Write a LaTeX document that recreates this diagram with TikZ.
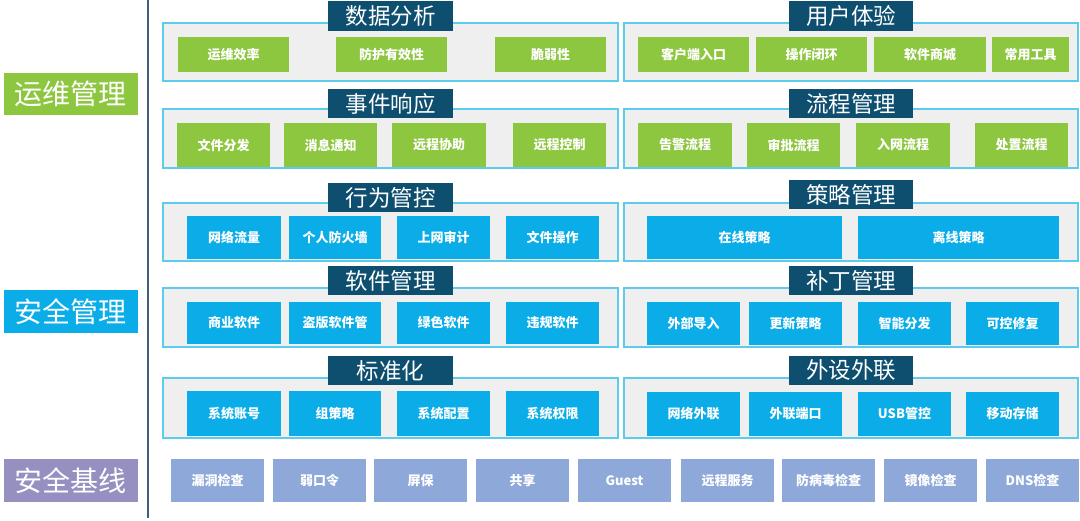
\documentclass[tikz,border=0pt]{standalone}
\usepackage{fontspec}
\setmainfont{Noto Sans CJK SC}
\definecolor{grn}{HTML}{8DC63F}
\definecolor{blu}{HTML}{0AADE8}
\definecolor{prp}{HTML}{8FA8DA}
\definecolor{lblprp}{HTML}{9590C0}
\definecolor{ttlblue}{HTML}{0E4F70}
\definecolor{panelfill}{HTML}{EFEFEF}
\definecolor{panelline}{HTML}{5DCBEB}
\definecolor{divline}{HTML}{465C7C}
\newcommand\mybox[7]{%
  \node[#1, minimum width={(#5-#3)*1pt}, minimum height={(#6-#4)*1pt}] (#2) at ({(#3+#5)/2},{(#4+#6)/2}) {#7};}
\begin{document}
\begin{tikzpicture}[x=1pt,y=-1pt,
  panel/.style={draw=panelline, line width=2.2pt, fill=panelfill, inner sep=0},
  ttl/.style={fill=ttlblue, text=white, inner sep=0, font=\fontsize{22.5}{22.5}\selectfont},
  itm/.style={inner sep=0, text=white, font=\bfseries\fontsize{13}{13}\selectfont},
  gitem/.style={itm, fill=grn},
  bitem/.style={itm, fill=blu},
  pitem/.style={itm, fill=prp},
  lbl/.style={inner sep=0, text=white, font=\fontsize{28}{28}\selectfont},
  divider/.style={draw=divline, line width=1.5pt}
]
\useasboundingbox[fill=white] (0,0) rectangle (1080,520);

% left labels
\mybox{lbl,fill=grn}{L1}{4}{73}{138}{115}{运维管理}
\mybox{lbl,fill=blu}{L2}{4}{290}{138}{333}{安全管理}
\mybox{lbl,fill=lblprp}{L3}{4}{459}{138}{502}{安全基线}

% divider
\coordinate (dt) at (148,0);
\coordinate (db) at (148,518);
\draw[divider] (dt) -- (db);

% panels
\mybox{panel}{P1L}{163}{23}{618}{81}{}
\mybox{panel}{P1R}{624}{23}{1078}{81}{}
\mybox{panel}{P2L}{163}{109}{618}{168}{}
\mybox{panel}{P2R}{624}{109}{1078}{168}{}
\mybox{panel}{P3L}{163}{203}{618}{261}{}
\mybox{panel}{P3R}{624}{203}{1078}{261}{}
\mybox{panel}{P4L}{163}{288}{618}{347}{}
\mybox{panel}{P4R}{624}{288}{1078}{347}{}
\mybox{panel}{P5L}{163}{378}{618}{438}{}
\mybox{panel}{P5R}{624}{378}{1078}{438}{}

% titles
\mybox{ttl}{T1L}{328}{1}{453}{31}{数据分析}
\mybox{ttl}{T1R}{789}{1}{913}{31}{用户体验}
\mybox{ttl}{T2L}{328}{89}{453}{118}{事件响应}
\mybox{ttl}{T2R}{789}{89}{913}{118}{流程管理}
\mybox{ttl}{T3L}{328}{183}{453}{212}{行为管控}
\mybox{ttl}{T3R}{789}{180}{913}{209}{策略管理}
\mybox{ttl}{T4L}{328}{266}{453}{295}{软件管理}
\mybox{ttl}{T4R}{789}{266}{913}{295}{补丁管理}
\mybox{ttl}{T5L}{328}{356}{453}{385}{标准化}
\mybox{ttl}{T5R}{789}{356}{913}{385}{外设外联}

% row 1
\mybox{gitem}{a1}{178}{37}{289}{72}{运维效率}
\mybox{gitem}{a2}{336}{37}{447}{72}{防护有效性}
\mybox{gitem}{a3}{495}{37}{606}{72}{脆弱性}
\mybox{gitem}{b1}{638}{37}{749}{72}{客户端入口}
\mybox{gitem}{b2}{756}{37}{867}{72}{操作闭环}
\mybox{gitem}{b3}{874}{37}{986}{72}{软件商城}
\mybox{gitem}{b4}{992}{37}{1069}{72}{常用工具}

% row 2
\mybox{gitem}{c1}{177}{123}{270}{167}{文件分发}
\mybox{gitem}{c2}{284}{123}{377}{167}{消息通知}
\mybox{gitem}{c3}{392}{123}{486}{167}{远程协助}
\mybox{gitem}{c4}{513}{123}{606}{167}{远程控制}
\mybox{gitem}{d1}{638}{123}{732}{167}{告警流程}
\mybox{gitem}{d2}{747}{123}{840}{167}{审批流程}
\mybox{gitem}{d3}{856}{123}{950}{167}{入网流程}
\mybox{gitem}{d4}{975}{123}{1068}{167}{处置流程}

% row 3
\mybox{bitem}{e1}{187}{216}{281}{259}{网络流量}
\mybox{bitem}{e2}{289}{216}{381}{259}{个人防火墙}
\mybox{bitem}{e3}{397}{216}{490}{259}{上网审计}
\mybox{bitem}{e4}{506}{216}{599}{259}{文件操作}
\mybox{bitem}{f1}{647}{216}{842}{259}{在线策略}
\mybox{bitem}{f2}{858}{216}{1059}{259}{离线策略}

% row 4
\mybox{bitem}{g1}{187}{302}{281}{344}{商业软件}
\mybox{bitem}{g2}{289}{302}{381}{344}{盗版软件管}
\mybox{bitem}{g3}{397}{302}{490}{344}{绿色软件}
\mybox{bitem}{g4}{506}{302}{599}{344}{违规软件}
\mybox{bitem}{h1}{647}{302}{740}{345}{外部导入}
\mybox{bitem}{h2}{749}{302}{842}{345}{更新策略}
\mybox{bitem}{h3}{858}{302}{951}{345}{智能分发}
\mybox{bitem}{h4}{966}{302}{1059}{345}{可控修复}

% row 5
\mybox{bitem}{i1}{187}{391}{281}{436}{系统账号}
\mybox{bitem}{i2}{289}{391}{381}{436}{组策略}
\mybox{bitem}{i3}{397}{391}{490}{436}{系统配置}
\mybox{bitem}{i4}{506}{391}{599}{436}{系统权限}
\mybox{bitem}{j1}{647}{392}{740}{436}{网络外联}
\mybox{bitem}{j2}{749}{392}{842}{436}{外联端口}
\mybox{bitem}{j3}{858}{392}{951}{436}{USB管控}
\mybox{bitem}{j4}{966}{392}{1059}{436}{移动存储}

% baseline
\mybox{pitem}{k1}{171}{459}{264}{502}{漏洞检查}
\mybox{pitem}{k2}{273}{459}{366}{502}{弱口令}
\mybox{pitem}{k3}{374}{459}{467}{502}{屏保}
\mybox{pitem}{k4}{476}{459}{569}{502}{共享}
\mybox{pitem}{k5}{578}{459}{671}{502}{Guest}
\mybox{pitem}{k6}{681}{459}{774}{502}{远程服务}
\mybox{pitem}{k7}{782}{459}{875}{502}{防病毒检查}
\mybox{pitem}{k8}{884}{459}{977}{502}{镜像检查}
\mybox{pitem}{k9}{986}{459}{1079}{502}{DNS检查}
\end{tikzpicture}
\end{document}
